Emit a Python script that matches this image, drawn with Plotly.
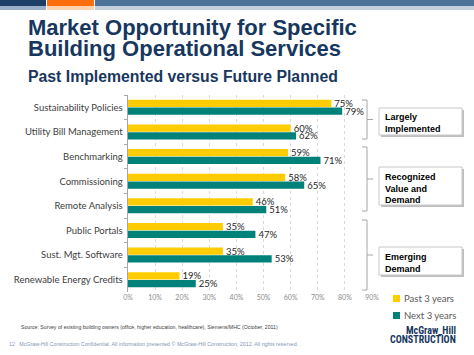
import plotly.graph_objects as go

categories = ["Sustainability Policies", "Utility Bill Management", "Benchmarking",
              "Commissioning", "Remote Analysis", "Public Portals",
              "Sust. Mgt. Software", "Renewable Energy Credits"]
past_3_years = [75, 60, 59, 58, 46, 35, 35, 19]
next_3_years = [79, 62, 71, 65, 51, 47, 53, 25]
x_ticks = [0, 10, 20, 30, 40, 50, 60, 70, 80, 90]

W, H = 474, 355
L, R, T, B = 128, 102, 95, 63
PW, PH = W - L - R, H - T - B

def px(x):
    return (x - L) / PW

def py(y):
    return (H - B - y) / PH

YELLOW = "#FFCC00"
TEAL = "#00827A"
NAVY = "#17375E"

fig = go.Figure()
fig.add_trace(go.Bar(y=categories, x=past_3_years, orientation="h", name="Past 3 years",
                     marker=dict(color=YELLOW, line=dict(width=0)),
                     text=[f"{v}%" for v in past_3_years], textposition="outside", constraintext="none",
                     textfont=dict(size=9.5, color="#262626", family="Lato"), cliponaxis=False))
fig.add_trace(go.Bar(y=categories, x=next_3_years, orientation="h", name="Next 3 years",
                     marker=dict(color=TEAL, line=dict(width=0)),
                     text=[f"{v}%" for v in next_3_years], textposition="outside", constraintext="none",
                     textfont=dict(size=9.5, color="#262626", family="Lato"), cliponaxis=False))

shapes = []
# header bars
for x0, x1, c, c2 in [(0, 46, "#1B3F66", "#9AB0C8"), (47, 94, "#FF6E0C", "#FFD2B0"), (95, 474, "#4E7398", "#C4D0DC")]:
    shapes.append(dict(type="rect", xref="paper", yref="paper", x0=px(x0), x1=px(x1), y0=py(6), y1=py(0),
                       fillcolor=c, line=dict(width=0), layer="above"))
    shapes.append(dict(type="rect", xref="paper", yref="paper", x0=px(x0), x1=px(x1), y0=py(10), y1=py(6),
                       fillcolor=c2, line=dict(width=0), layer="above"))

# brackets
for y0, y1 in [(100, 139), (147, 211), (220, 290)]:
    ym = (y0 + y1) / 2
    path = (f"M{px(362)},{py(y0)} L{px(367)},{py(y0)} L{px(367)},{py(y1)} L{px(362)},{py(y1)} "
            f"M{px(367)},{py(ym)} L{px(373)},{py(ym)}")
    shapes.append(dict(type="path", xref="paper", yref="paper", path=path,
                       line=dict(color="#A6A6A6", width=1)))

# boxes with shadow
boxes = [((379, 108, 462, 135), "Largely<br>Implemented"),
         ((379, 167, 462, 205), "Recognized<br>Value and<br>Demand"),
         ((379, 247, 462, 275), "Emerging<br>Demand")]
annotations = []
for (x0, y0, x1, y1), txt in boxes:
    shapes.append(dict(type="rect", xref="paper", yref="paper", x0=px(x0 + 2), x1=px(x1 + 2),
                       y0=py(y1 + 2), y1=py(y0 + 2), fillcolor="#BFBFBF", line=dict(width=0)))
    shapes.append(dict(type="rect", xref="paper", yref="paper", x0=px(x0), x1=px(x1),
                       y0=py(y1), y1=py(y0), fillcolor="white", line=dict(color="#C8C8C8", width=1)))
    annotations.append(dict(xref="paper", yref="paper", x=px(x0 + 4), y=py(y0 + 2.5), xanchor="left",
                            yanchor="top", align="left", showarrow=False, text=txt,
                            font=dict(family="Liberation Sans", size=9, color="#000000", weight="bold")))

# legend
for yc, c, name in [(298.5, YELLOW, "Past 3 years"), (315.5, TEAL, "Next 3 years")]:
    shapes.append(dict(type="rect", xref="paper", yref="paper", x0=px(393), x1=px(400),
                       y0=py(yc + 3.5), y1=py(yc - 3.5), fillcolor=c, line=dict(width=0)))
    annotations.append(dict(xref="paper", yref="paper", x=px(402), y=py(yc), xanchor="left",
                            yanchor="middle", showarrow=False, text=name,
                            font=dict(family="Lato", size=9.5, color="#595959")))

# titles
for yc, line in [(27, "Market Opportunity for Specific"), (48, "Building Operational Services")]:
    annotations.append(dict(xref="paper", yref="paper", x=px(25.5), y=py(yc), xanchor="left", yanchor="middle",
                            showarrow=False, text=line,
                            font=dict(family="Liberation Sans", size=22, color=NAVY, weight="bold")))
annotations.append(dict(xref="paper", yref="paper", x=px(25.5), y=py(76), xanchor="left", yanchor="middle",
                        showarrow=False, text="Past Implemented versus Future Planned",
                        font=dict(family="Liberation Sans", size=15.8, color=NAVY, weight="bold")))
# source and footer
annotations.append(dict(xref="paper", yref="paper", x=px(19), y=py(326.5), xanchor="left", yanchor="middle",
                        showarrow=False,
                        text="Source: Survey of existing building owners (office, higher education, healthcare), Siemens/MHC (October, 2011)",
                        font=dict(family="Liberation Sans", size=5.2, color="#404040")))
annotations.append(dict(xref="paper", yref="paper", x=px(7), y=py(343.5), xanchor="left", yanchor="middle",
                        showarrow=False,
                        text="12&nbsp;&nbsp;&nbsp;McGraw-Hill Construction Confidential. All information presented © McGraw-Hill Construction, 2012. All rights reserved.",
                        font=dict(family="Liberation Sans", size=5.3, color="#7F95B5")))
logo_font = "Liberation Sans Narrow, Roboto Condensed, DejaVu Sans Condensed, Roboto"
annotations.append(dict(xref="paper", yref="paper", x=px(457.5), y=py(330), xanchor="right", yanchor="middle",
                        showarrow=False, text="McGraw_Hill",
                        font=dict(family=logo_font, size=10, color=NAVY, weight="bold")))
annotations.append(dict(xref="paper", yref="paper", x=px(457.5), y=py(339.5), xanchor="right", yanchor="middle",
                        showarrow=False, text="CONSTRUCTION",
                        font=dict(family=logo_font, size=10, color=NAVY, weight="bold")))

fig.update_layout(
    width=W, height=H, margin=dict(l=L, r=R, t=T, b=B, pad=0, autoexpand=False),
    paper_bgcolor="white", plot_bgcolor="white",
    barmode="group", bargap=0.38, bargroupgap=0.05,
    showlegend=False, shapes=shapes, annotations=annotations,
    xaxis=dict(range=[0, 90], tickvals=x_ticks, ticktext=[f"{v}%" for v in x_ticks],
               showgrid=True, gridcolor="#D9D9D9", griddash="dot", gridwidth=1,
               zeroline=False, showline=False, ticks="", automargin=False,
               tickfont=dict(family="Lato", size=7, color="#8C8C8C")),
    yaxis=dict(autorange="reversed", showline=True, linecolor="#A6A6A6", linewidth=1,
               ticks="outside", tickson="boundaries", ticklen=3, tickcolor="#A6A6A6",
               showgrid=False, ticksuffix=" ", automargin=False,
               tickfont=dict(family="Lato", size=9.5, color="#404040")),
)

fig.write_html("out.html", config={"displayModeBar": False},
               post_script="document.body.style.margin='0';document.body.style.padding='0';")
